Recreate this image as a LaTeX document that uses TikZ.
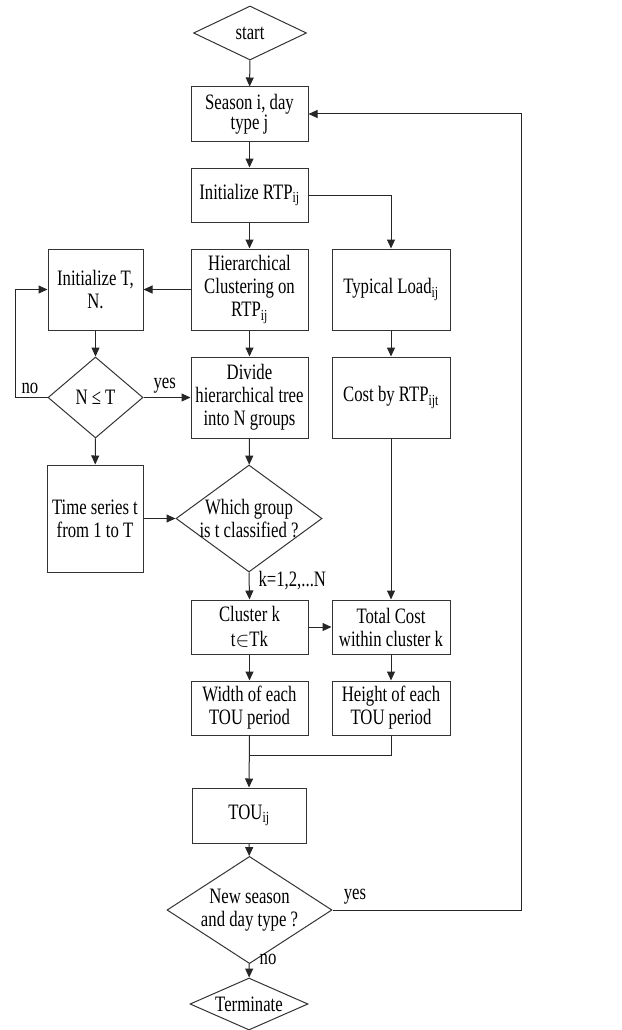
\documentclass[tikz,border=0pt]{standalone}
\usepackage{fontspec}
\newfontfamily\flowfont{Liberation Serif}[FakeStretch=0.76]
\usepackage{tikz}
\usetikzlibrary{shapes.geometric}
\usetikzlibrary{arrows.meta}
\tikzset{
  procbox/.style={draw=black!80, line width=1pt, rectangle, inner sep=1pt,
    minimum width=117pt, minimum height=54pt, align=center},
  decision/.style={draw=black!80, line width=1pt, diamond, inner sep=-8pt, align=center},
  flow/.style={draw=black!85, line width=1pt, -{Triangle[length=9pt,width=8pt]}},
  link/.style={draw=black!85, line width=1pt},
}

\begin{document}
\begin{tikzpicture}[x=1pt, y=-1pt, font=\flowfont\fontsize{22}{23}\selectfont]
    \useasboundingbox (0, 0) rectangle (621, 1030);
    % middle column
    \node[decision, minimum width=113pt, minimum height=54pt] (start) at (250, 33) {start};
    \node[procbox, font=\flowfont\fontsize{22}{17}\selectfont] (season) at (249.5, 114) {Season i, day\\type j};
    \node[procbox] (initrtp) at (249.5, 195) {Initialize RTP\textsubscript{ij}};
    \node[procbox, minimum height=81pt] (hier) at (249.5, 289.5) {Hierarchical\\Clustering on\\RTP\textsubscript{ij}};
    \node[procbox, minimum height=81pt] (divide) at (249.5, 397.5) {Divide\\hierarchical tree\\into N groups};
    \node[decision, minimum width=146pt, minimum height=107pt] (which) at (249, 518.5) {Which group\\is t classified ?};
    \node[procbox, font=\flowfont\fontsize{22}{25}\selectfont] (cluster) at (249.5, 627) {Cluster k\\t$\in$Tk};
    \node[procbox] (width) at (249.5, 708) {Width of each\\TOU period};
    \node[procbox, minimum width=114pt, minimum height=55pt] (tou) at (249, 815.5) {TOU\textsubscript{ij}};
    \node[decision, minimum width=165pt, minimum height=80pt] (newseason) at (249.5, 910) {New season\\and day type ?};
    \node[decision, minimum width=118pt, minimum height=52pt] (term) at (249, 1004) {Terminate};
    % left column
    \node[procbox, minimum width=95pt, minimum height=81pt] (inittn) at (95.5, 289.5) {Initialize T,\\N.};
    \node[decision, minimum width=95pt, minimum height=81pt] (nleqt) at (95.5, 397.5) {N ≤ T};
    \node[procbox, minimum width=96pt, minimum height=107pt] (tseries) at (95, 518.5) {Time series t\\from 1 to T};
    % right column
    \node[procbox, minimum width=118pt, minimum height=81pt] (typload) at (391, 289.5) {Typical Load\textsubscript{ij}};
    \node[procbox, minimum width=118pt, minimum height=81pt] (cost) at (391, 397.5) {Cost by RTP\textsubscript{ijt}};
    \node[procbox, minimum width=118pt] (total) at (391, 627) {Total Cost\\within cluster k};
    \node[procbox, minimum width=118pt] (height) at (391, 708) {Height of each\\TOU period};
    \coordinate (noloop) at (15, 0);
    \coordinate (merge) at (249.5, 755);
    \coordinate (yesloop) at (521, 0);

    \draw[flow] (start) -- (season);
    \draw[flow] (season) -- (initrtp);
    \draw[flow] (initrtp) -- (hier);
    \draw[flow] (initrtp.east) -| (typload.north);
    \draw[flow] (hier.west) -- (inittn.east);
    \draw[flow] (inittn) -- (nleqt);
    \draw[flow] (hier) -- (divide);
    \draw[flow] (nleqt.east) -- node[above, pos=0.45] (yeslbl) {yes} (divide.west);
    \draw[flow] (nleqt.west) -- (nleqt.west -| noloop) |- (inittn.west);
    \node (nolbl) at (30, 388) {no};
    \draw[flow] (typload) -- (cost);
    \draw[flow] (divide) -- (which);
    \draw[flow] (nleqt) -- (tseries);
    \draw[flow] (tseries.east) -- (which.west);
    \draw[flow] (which.south) -- (cluster.north);
    \node[anchor=west] (klbl) at (255, 581) {k=1,2,...N};
    \draw[flow] (cost) -- (total);
    \draw[flow] (cluster) -- (total);
    \draw[flow] (cluster) -- (width);
    \draw[flow] (total) -- (height);
    \draw[flow] (width.south) -- (tou.north);
    \draw[link] (height.south) |- (merge);
    \draw[flow] (tou) -- (newseason);
    \draw[flow] (newseason.east) -- (newseason.east -| yesloop) |- (season.east);
    \node (yes2lbl) at (355, 897) {yes};
    \draw[flow] (newseason) -- (term);
    \node (no2lbl) at (268, 959) {no};
\end{tikzpicture}
\end{document}
